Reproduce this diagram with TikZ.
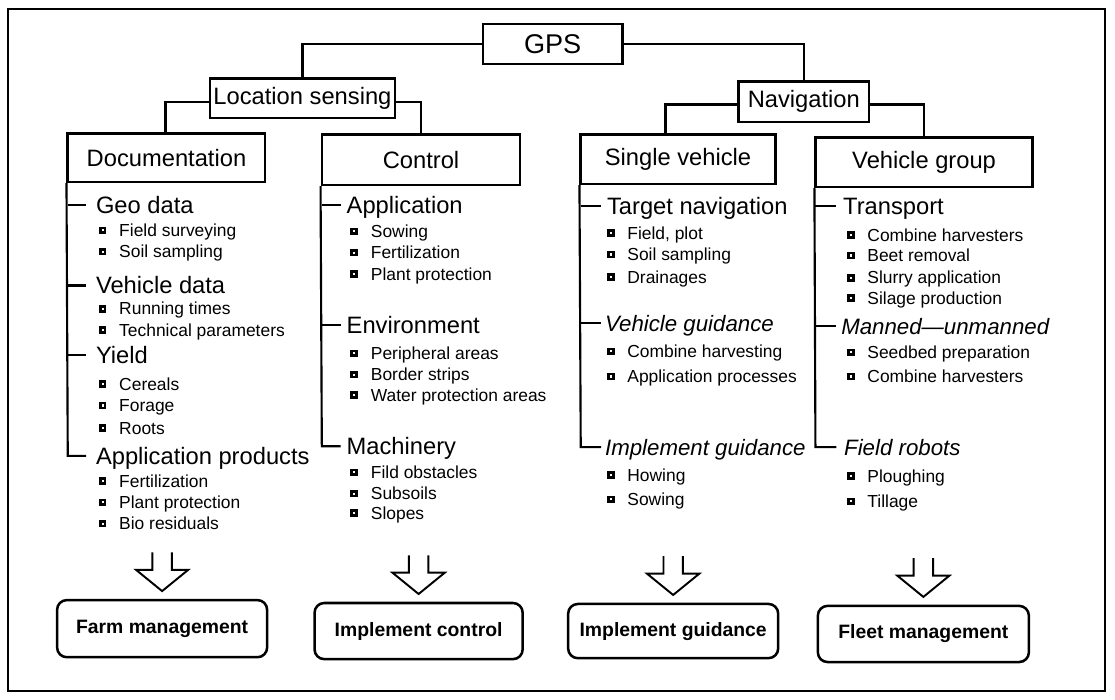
\documentclass[tikz,border=0pt]{standalone}
\usepackage{fontspec}
\setmainfont{Liberation Sans}
\newcommand\bitem[4]{%
  \node[bul] (#1b) at (#2,#3) {};
  \node[item] (#1) at ({#2+17},{#3+6.4}) {#4};}
\newcommand\harrowto[1]{%
  \draw[harr] ([yshift=8pt]#1.north) ++(-10,-40) -- ++(0,18) -- ++(-17,0)
     -- ([yshift=8pt]#1.north) -- ++(27,-22) -- ++(-17,0) -- ++(0,-18);}
\begin{document}
\begin{tikzpicture}[x=1pt,y=-1pt,
  hbox/.style={draw, line width=2.6pt, inner sep=0pt, font=\fontsize{24.5}{28}\selectfont},
  conn/.style={line width=2.4pt},
  trunk/.style={line width=2.2pt},
  head/.style={anchor=base west, inner sep=0pt, font=\fontsize{24.5}{28}\selectfont},
  ihead/.style={anchor=base west, inner sep=0pt, font=\fontsize{23}{28}\selectfont\itshape},
  item/.style={anchor=base west, inner sep=0pt, font=\fontsize{18}{22}\selectfont},
  bul/.style={draw, line width=2.8pt, fill=white, minimum size=5pt, inner sep=0pt},
  res/.style={draw, line width=2.6pt, rounded corners=10pt, inner sep=0pt, font=\fontsize{20}{24}\selectfont\bfseries},
  harr/.style={line width=2pt, line join=miter}]
\useasboundingbox (0,0) rectangle (1152,723);
% frame
\draw[line width=2pt] (8.5,9) rectangle (1142,714);

% header boxes
\node[hbox, minimum width=144pt, minimum height=41pt, font=\fontsize{28}{32}\selectfont] (gps) at (571,45.5) {GPS};
\node[hbox, minimum width=191pt, minimum height=41pt] (ls) at (312.5,101.5) {Location sensing};
\node[hbox, minimum width=135pt, minimum height=42pt] (nav) at (830.5,105) {Navigation};
\node[hbox, minimum width=204pt, minimum height=50pt] (doc) at (172,163) {Documentation};
\node[hbox, minimum width=205pt, minimum height=52pt] (ctrl) at (435,165) {Control};
\node[hbox, minimum width=201pt, minimum height=51pt] (sv) at (700.5,164.5) {Single vehicle};
\node[hbox, minimum width=224pt, minimum height=51pt] (vg) at (954.75,167.5) {Vehicle group};

% connectors
\draw[conn] (gps.west) -| (ls.north);
\draw[conn] (gps.east) -| (nav.north);
\draw[conn] ([yshift=-4pt]ls.west) -| ([xshift=-1pt]doc.north);
\draw[conn] ([yshift=-4pt]ls.east) -| (ctrl.north);
\draw[conn] ([yshift=-3pt]nav.west) -| ([xshift=-13pt]sv.north);
\draw[conn] ([yshift=-3pt]nav.east) -| (vg.north);

% trunks
\draw[trunk] (doc.south west) -- (70,471) -- (89,471);
\draw[trunk] (70,212) -- (89,212);
\draw[trunk] (70,295) -- (89,295);
\draw[trunk] (70,367) -- (89,367);
\draw[trunk] (ctrl.south west) -- (332.5,461) -- (352,461);
\draw[trunk] (332.5,212) -- (352,212);
\draw[trunk] (332.5,336) -- (352,336);
\draw[trunk] (sv.south west) -- (600,462) -- (621,462);
\draw[trunk] (600,213) -- (621,213);
\draw[trunk] (600,334) -- (621,334);
\draw[trunk] (vg.south west) -- (842.5,462) -- (864,462);
\draw[trunk] (842.5,213) -- (864,213);
\draw[trunk] (842.5,337) -- (864,337);

% Documentation column
\node[head] (geo) at (99,220.6) {Geo data};
\bitem{d1}{106}{238}{Field surveying}
\bitem{d2}{106}{260}{Soil sampling}
\node[head] (vdat) at (99,303.6) {Vehicle data};
\bitem{d3}{106}{319}{Running times}
\bitem{d4}{106}{341}{Technical parameters}
\node[head] (yield) at (99,375.6) {Yield};
\bitem{d5}{106}{397}{Cereals}
\bitem{d6}{106}{419}{Forage}
\bitem{d7}{106}{442}{Roots}
\node[head] (appp) at (99,479.6) {Application products};
\bitem{d8}{106}{497}{Fertilization}
\bitem{d9}{106}{519}{Plant protection}
\bitem{d10}{106}{541}{Bio residuals}

% Control column
\node[head] (appl) at (358,220.6) {Application};
\bitem{c1}{366}{239}{Sowing}
\bitem{c2}{366}{261}{Fertilization}
\bitem{c3}{366}{283}{Plant protection}
\node[head] (env) at (358,344.6) {Environment};
\bitem{c4}{366}{365}{Peripheral areas}
\bitem{c5}{366}{387}{Border strips}
\bitem{c6}{366}{408}{Water protection areas}
\node[head] (mach) at (358,469.6) {Machinery};
\bitem{c7}{366}{488}{Fild obstacles}
\bitem{c8}{366}{510}{Subsoils}
\bitem{c9}{366}{530}{Slopes}

% Single vehicle column
\node[head] (tnav) at (627,221.6) {Target navigation};
\bitem{s1}{631}{241}{Field, plot}
\bitem{s2}{631}{263}{Soil sampling}
\bitem{s3}{631}{286}{Drainages}
\node[ihead] (vgui) at (625,342.2) {Vehicle guidance};
\bitem{s4}{631}{363}{Combine harvesting}
\bitem{s5}{631}{389}{Application processes}
\node[ihead] (igui) at (625,470.2) {Implement guidance};
\bitem{s6}{631}{491}{Howing}
\bitem{s7}{631}{516}{Sowing}

% Vehicle group column
\node[head] (trans) at (871,221.6) {Transport};
\bitem{v1}{879}{243}{Combine harvesters}
\bitem{v2}{879}{264}{Beet removal}
\bitem{v3}{879}{287}{Slurry application}
\bitem{v4}{879}{308}{Silage production}
\node[ihead] (mann) at (869,345.2) {Manned---unmanned};
\bitem{v5}{879}{364}{Seedbed preparation}
\bitem{v6}{879}{389}{Combine harvesters}
\node[ihead] (frob) at (872,470.2) {Field robots};
\bitem{v7}{879}{492}{Ploughing}
\bitem{v8}{879}{518}{Tillage}

% result boxes
\node[res, minimum width=217pt, minimum height=59pt] (farm) at (167.5,649.5) {Farm management};
\node[res, minimum width=215pt, minimum height=58pt] (ictl) at (432.5,652) {Implement control};
\node[res, minimum width=217pt, minimum height=56pt] (igd) at (695.5,652) {Implement guidance};
\node[res, minimum width=218pt, minimum height=58pt] (fleet) at (954,655) {Fleet management};

% hollow arrows
\harrowto{farm}
\harrowto{ictl}
\harrowto{igd}
\harrowto{fleet}
\end{tikzpicture}
\end{document}
